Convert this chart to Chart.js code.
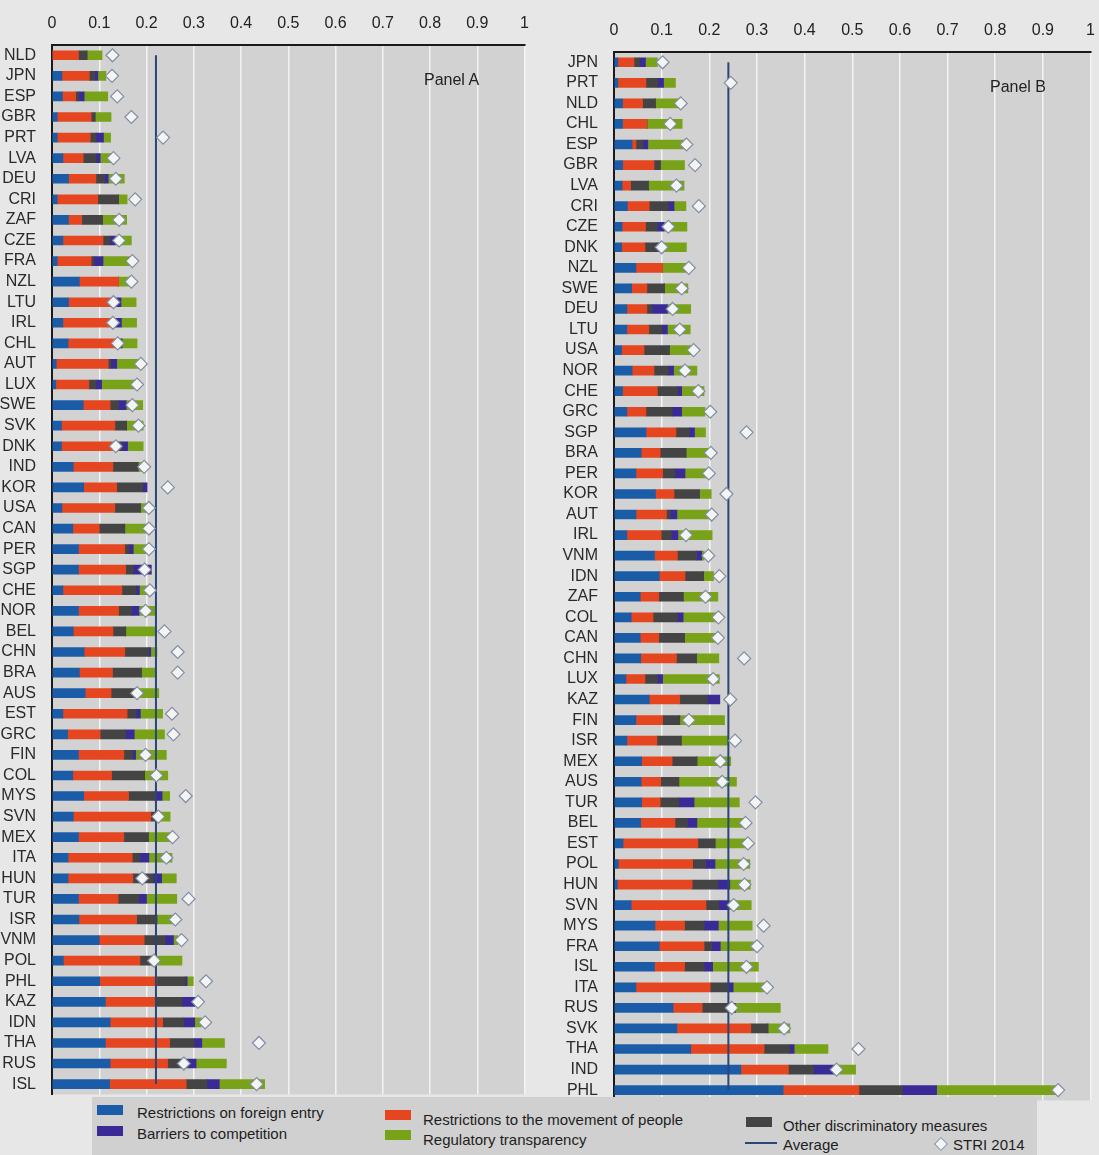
<!DOCTYPE html>
<html><head><meta charset="utf-8">
<script src="https://cdn.jsdelivr.net/npm/chart.js@4.4.1/dist/chart.umd.min.js"></script>
<style>
html,body{margin:0;padding:0;background:#e7e7e7;width:1099px;height:1155px;overflow:hidden;font-family:"Liberation Sans",Arial,sans-serif;position:relative;}
#wa{position:absolute;left:0;top:0;width:541px;height:1112px;}
#wb{position:absolute;left:562px;top:0;width:545px;height:1118px;}
.panel{position:absolute;font-size:16px;color:#222;}
#legend{position:absolute;left:92px;top:1097px;width:945px;height:58px;background:#d0d0d0;}
#legend .sw{position:absolute;width:26px;height:10px;}
#legend .tx{position:absolute;font-size:15px;color:#1e1e1e;line-height:16px;white-space:nowrap;}
</style></head>
<body>
<div id="wa"><canvas id="ca"></canvas></div>
<div id="wb"><canvas id="cb"></canvas></div>
<div class="panel" style="left:424px;top:71px;">Panel A</div>
<div class="panel" style="left:990px;top:78px;">Panel B</div>
<div id="legend">
  <div class="sw" style="left:5px;top:8px;background:#1a5ca8"></div>
  <div class="tx" style="left:45px;top:8px;">Restrictions on foreign entry</div>
  <div class="sw" style="left:5px;top:29px;background:#3a2a98"></div>
  <div class="tx" style="left:45px;top:29px;">Barriers to competition</div>
  <div class="sw" style="left:293px;top:13px;background:#e5461f"></div>
  <div class="tx" style="left:331px;top:15px;">Restrictions to the movement of people</div>
  <div class="sw" style="left:293px;top:33px;background:#78a218"></div>
  <div class="tx" style="left:331px;top:35px;">Regulatory transparency</div>
  <div class="sw" style="left:654px;top:20px;background:#444"></div>
  <div class="tx" style="left:691px;top:21px;">Other discriminatory measures</div>
  <div style="position:absolute;left:653px;top:45px;width:32px;height:2px;background:#2a4674"></div>
  <div class="tx" style="left:691px;top:40px;">Average</div>
  <div style="position:absolute;left:844px;top:42px;width:8px;height:8px;border:1px solid #7f8ea3;background:#f4f4f4;transform:rotate(45deg);"></div>
  <div class="tx" style="left:861px;top:40px;">STRI 2014</div>
</div>
<script>
const tickLabels = ['0','0.1','0.2','0.3','0.4','0.5','0.6','0.7','0.8','0.9','1'];
const seriesNames = ['Restrictions on foreign entry','Restrictions to the movement of people','Other discriminatory measures','Barriers to competition','Regulatory transparency'];
const seriesColors = ['#1a5ca8','#e5461f','#444444','#3a2a98','#78a218'];

// Panel A
const catsA = ['NLD','JPN','ESP','GBR','PRT','LVA','DEU','CRI','ZAF','CZE','FRA','NZL','LTU','IRL','CHL','AUT','LUX','SWE','SVK','DNK','IND','KOR','USA','CAN','PER','SGP','CHE','NOR','BEL','CHN','BRA','AUS','EST','GRC','FIN','COL','MYS','SVN','MEX','ITA','HUN','TUR','ISR','VNM','POL','PHL','KAZ','IDN','THA','RUS','ISL'];
const foreignEntryA = [0,0.021,0.022,0.011,0.011,0.023,0.035,0.011,0.035,0.023,0.011,0.058,0.035,0.023,0.034,0.009,0.008,0.066,0.02,0.02,0.045,0.067,0.021,0.044,0.056,0.056,0.023,0.056,0.045,0.068,0.058,0.07,0.023,0.033,0.056,0.044,0.067,0.045,0.056,0.034,0.034,0.056,0.057,0.1,0.024,0.101,0.113,0.123,0.113,0.123,0.122];
const movementA = [0.056,0.058,0.028,0.072,0.07,0.043,0.058,0.086,0.028,0.085,0.072,0.083,0.097,0.108,0.1,0.11,0.07,0.057,0.113,0.11,0.084,0.07,0.112,0.056,0.098,0.1,0.125,0.085,0.084,0.086,0.07,0.055,0.136,0.069,0.096,0.082,0.095,0.164,0.096,0.136,0.137,0.084,0.122,0.095,0.162,0.121,0.105,0.111,0.136,0.122,0.162];
const otherDiscA = [0.018,0.011,0.007,0.008,0.012,0.027,0.018,0.044,0.044,0.015,0.006,0,0,0,0.014,0.005,0.015,0.018,0.025,0.018,0.053,0.055,0.054,0.054,0.009,0.016,0.03,0.027,0.027,0.05,0.061,0.056,0.019,0.054,0.019,0.07,0.055,0.011,0.052,0.016,0.043,0.044,0.043,0.044,0.025,0.06,0.057,0.045,0.052,0.044,0.044];
const competitionA = [0,0.007,0.011,0,0.016,0.009,0.008,0,0,0.011,0.019,0,0.014,0.016,0,0.013,0.012,0.016,0,0.012,0,0.009,0,0,0.009,0.038,0.007,0.016,0,0.005,0,0,0.009,0.018,0.006,0,0.016,0,0,0.019,0.018,0.016,0,0.018,0,0.004,0.027,0.023,0.016,0.016,0.026];
const transparencyA = [0.032,0.017,0.05,0.034,0.015,0.026,0.034,0.018,0.051,0.034,0.056,0.026,0.032,0.032,0.032,0.05,0.075,0.035,0.035,0.033,0.011,0,0.02,0.051,0.036,0,0.023,0.034,0.064,0.013,0.032,0.045,0.047,0.064,0.065,0.049,0.016,0.03,0.046,0.049,0.031,0.064,0.037,0.009,0.064,0.013,0,0.014,0.048,0.064,0.096];
const stri2014A = [0.128,0.127,0.138,0.168,0.235,0.13,0.135,0.176,0.142,0.142,0.17,0.168,0.13,0.129,0.139,0.188,0.18,0.17,0.183,0.135,0.195,0.245,0.205,0.205,0.205,0.196,0.207,0.198,0.238,0.266,0.266,0.18,0.254,0.257,0.198,0.221,0.283,0.225,0.255,0.242,0.191,0.289,0.261,0.274,0.216,0.326,0.309,0.324,0.438,0.279,0.433];
const averageA = 0.22;

// Panel B
const catsB = ['JPN','PRT','NLD','CHL','ESP','GBR','LVA','CRI','CZE','DNK','NZL','SWE','DEU','LTU','USA','NOR','CHE','GRC','SGP','BRA','PER','KOR','AUT','IRL','VNM','IDN','ZAF','COL','CAN','CHN','LUX','KAZ','FIN','ISR','MEX','AUS','TUR','BEL','EST','POL','HUN','SVN','MYS','FRA','ISL','ITA','RUS','SVK','THA','IND','PHL'];
const foreignEntryB = [0.008,0.008,0.018,0.018,0.038,0.018,0.017,0.028,0.017,0.016,0.046,0.037,0.027,0.027,0.016,0.038,0.018,0.027,0.067,0.057,0.046,0.087,0.046,0.027,0.085,0.095,0.055,0.036,0.055,0.056,0.025,0.074,0.046,0.027,0.058,0.057,0.058,0.056,0.019,0.009,0.007,0.036,0.086,0.095,0.085,0.046,0.124,0.132,0.161,0.266,0.355];
const movementB = [0.034,0.059,0.042,0.051,0.008,0.066,0.018,0.046,0.049,0.049,0.056,0.032,0.042,0.046,0.047,0.046,0.073,0.04,0.063,0.04,0.056,0.039,0.064,0.072,0.048,0.054,0.039,0.046,0.039,0.075,0.04,0.064,0.056,0.063,0.064,0.041,0.039,0.072,0.157,0.156,0.157,0.157,0.062,0.094,0.063,0.156,0.061,0.155,0.154,0.1,0.159];
const otherDiscB = [0.012,0.025,0.027,0,0.014,0.013,0.037,0.04,0.025,0.025,0,0.037,0.011,0.027,0.053,0.03,0.042,0.055,0.028,0.054,0.026,0.053,0.008,0.021,0.04,0.039,0.051,0.051,0.054,0.042,0.026,0.058,0.036,0.051,0.052,0.038,0.039,0.026,0.036,0.027,0.054,0.027,0.041,0.016,0.041,0.037,0.07,0.036,0.054,0.053,0.091];
const competitionB = [0.012,0.012,0,0,0.011,0,0,0.012,0.014,0.008,0,0,0.032,0.012,0,0.011,0.009,0.02,0.011,0,0.021,0,0.014,0.014,0.011,0,0,0.012,0,0,0.011,0.026,0,0,0,0,0.032,0.02,0,0.02,0.025,0.019,0.03,0.018,0.018,0.011,0,0,0.009,0.043,0.072];
const transparencyB = [0.025,0.025,0.055,0.074,0.079,0.051,0.075,0.025,0.048,0.054,0.051,0.049,0.049,0.048,0.046,0.049,0.047,0.049,0.023,0.051,0.051,0.025,0.07,0.072,0.005,0.021,0.073,0.073,0.07,0.047,0.119,0,0.094,0.098,0.071,0.121,0.095,0.098,0.069,0.073,0.043,0.049,0.071,0.07,0.096,0.064,0.094,0.046,0.071,0.045,0.25];
const stri2014B = [0.102,0.245,0.14,0.118,0.152,0.17,0.131,0.178,0.114,0.1,0.157,0.142,0.123,0.138,0.167,0.149,0.177,0.202,0.278,0.203,0.199,0.236,0.205,0.151,0.198,0.221,0.192,0.219,0.218,0.273,0.208,0.244,0.157,0.254,0.223,0.227,0.297,0.276,0.281,0.272,0.274,0.251,0.314,0.3,0.278,0.321,0.247,0.357,0.513,0.467,0.932];
const averageB = 0.24;

const bgPlugin = {
  id: 'plotbg',
  beforeDraw(chart) {
    const {ctx, chartArea: a} = chart;
    ctx.save();
    ctx.fillStyle = '#d2d2d2';
    ctx.fillRect(a.left, a.top, a.right - a.left, a.bottom - a.top);
    ctx.restore();
  }
};

function makeChart(id, cats, series, stri, avg, leftW, topH) {
  const datasets = series.map((vals, i) => ({
    type: 'bar',
    label: seriesNames[i],
    data: vals,
    backgroundColor: seriesColors[i],
    borderWidth: 0,
    barThickness: 9,
    order: 3
  }));
  datasets.push({
    type: 'line',
    label: 'Average',
    stack: 'avg',
    data: [{x: avg, y: cats[0]}, {x: avg, y: cats[cats.length - 1]}],
    borderColor: '#2a4674',
    borderWidth: 2,
    pointRadius: 0,
    fill: false,
    order: 2
  });
  datasets.push({
    type: 'line',
    label: 'STRI 2014',
    stack: 'stri',
    data: stri.map((v, i) => ({x: v, y: cats[i]})),
    showLine: false,
    pointStyle: 'rectRot',
    pointRadius: 6.5,
    pointBackgroundColor: '#f4f4f4',
    pointBorderColor: '#7f8ea3',
    pointBorderWidth: 1.2,
    order: 1
  });
  return new Chart(document.getElementById(id), {
    type: 'bar',
    data: {labels: cats, datasets},
    plugins: [bgPlugin],
    options: {
      indexAxis: 'y',
      responsive: true,
      maintainAspectRatio: false,
      animation: false,
      layout: {padding: {left: 0, right: 0, top: 0, bottom: 0}},
      plugins: {legend: {display: false}, tooltip: {enabled: false}},
      scales: {
        x: {
          position: 'top',
          stacked: true,
          min: 0, max: 1,
          afterBuildTicks(scale) {
            scale.ticks = tickLabels.map(t => ({value: parseFloat(t)}));
          },
          afterFit(scale) { scale.height = topH; },
          ticks: {
            color: '#222', padding: 12,
            font: {family: '"Liberation Sans", Arial, sans-serif', size: 16},
            callback: (v, i) => tickLabels[i]
          },
          grid: {color: '#f4f4f4', lineWidth: 1.5, drawTicks: false},
          border: {display: true, color: '#1a1a1a', width: 2}
        },
        y: {
          stacked: true,
          afterFit(scale) { scale.width = leftW; },
          ticks: {
            color: '#2a2a2a', padding: 8, autoSkip: false,
            font: {family: '"Liberation Sans", Arial, sans-serif', size: 16}
          },
          grid: {display: false},
          border: {display: true, color: '#1a1a1a', width: 2}
        }
      }
    }
  });
}

makeChart('ca', catsA, [foreignEntryA, movementA, otherDiscA, competitionA, transparencyA], stri2014A, averageA, 52, 45);
makeChart('cb', catsB, [foreignEntryB, movementB, otherDiscB, competitionB, transparencyB], stri2014B, averageB, 52, 52);
</script>
</body></html>
